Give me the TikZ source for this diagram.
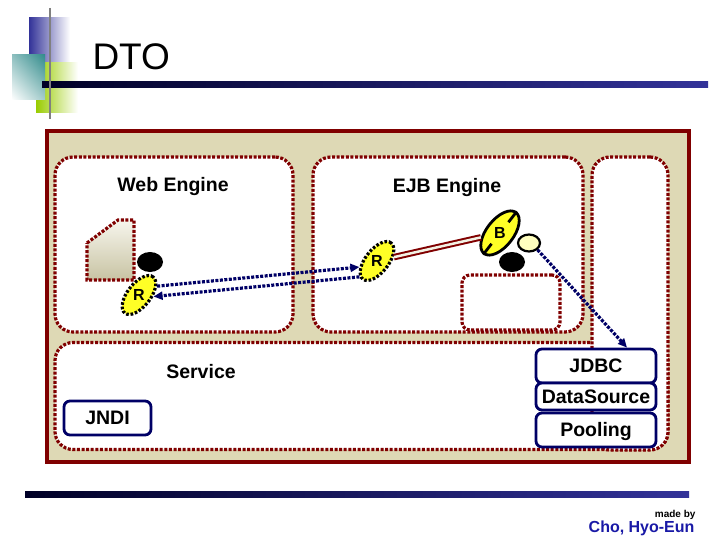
\documentclass[tikz,border=0pt]{standalone}
\usepackage{fontspec}
\setmainfont{Liberation Sans}
\usetikzlibrary{shapes.geometric,arrows.meta,calc,shadings}
\definecolor{dtomaroon}{rgb}{0.5,0,0}
\definecolor{dtonavy}{rgb}{0,0,0.4}
\definecolor{dtobeige}{rgb}{0.87,0.85,0.71}
\definecolor{dtoyellow}{rgb}{1,1,0.15}
\definecolor{dtopale}{rgb}{1,1,0.75}
\definecolor{dtoblue}{rgb}{0.2,0.2,0.6}
\definecolor{dtoteal}{rgb}{0.2,0.55,0.55}
\definecolor{dtogreen}{rgb}{0.6,0.8,0}
\definecolor{dtodark}{rgb}{0,0,0.15}
\definecolor{dtoink}{rgb}{0.1,0.1,0.65}

\begin{document}
\begin{tikzpicture}[x=1pt,y=-1pt,
        engine/.style={draw=dtomaroon,line width=3.2pt,dash pattern=on 3pt off 1.6pt,rounded corners=18pt,fill=white,inner sep=0pt},
        part/.style={draw=dtonavy,line width=2.8pt,rounded corners=6pt,fill=white,inner sep=0pt,text height=13.7pt,text depth=0pt,font=\fontsize{19.5}{22}\selectfont\bfseries},
        caption/.style={font=\fontsize{19.5}{22}\selectfont\bfseries,anchor=base},
        ref/.style={ellipse,draw=black,line width=3.2pt,dash pattern=on 2.6pt off 1.8pt,fill=dtoyellow,minimum width=46pt,minimum height=23pt,inner sep=0pt,rotate=52},
        blob/.style={ellipse,fill=black,minimum width=26pt,minimum height=20pt,inner sep=0pt},
        call/.style={draw=dtonavy,line width=3.2pt,dash pattern=on 3pt off 1.5pt,-{Triangle[length=9pt,width=8pt]}},
        letter/.style={font=\fontsize{16}{18}\selectfont\bfseries}
    ]
        \useasboundingbox (0,0) rectangle (720,540);
        \shade[left color=dtoblue,right color=white] (29,18) rectangle (70,80);
        \shade[left color=dtogreen,right color=white] (36,63) rectangle (78,113);
        \shade[upper right=dtoteal,upper left=dtoteal!55!white,lower right=dtoteal!45!white,lower left=white] (12,55) rectangle (45,100);
        \shade[left color=dtodark,right color=dtoblue] (42,82) rectangle (708,88);
        \draw[gray,line width=2.5pt] (50,8) -- (50,119);
        \node[anchor=base west,font=\fontsize{37}{40}\selectfont] (title) at (89,70) {DTO};

        \draw[dtomaroon,line width=4pt,fill=dtobeige] (47,131) rectangle (689,462);
        \node[engine,minimum width=238pt,minimum height=175pt] (web) at (174,244.5) {};
        \node[engine,minimum width=270pt,minimum height=175pt] (ejb) at (448,244.5) {};
        \node[engine,minimum width=613pt,minimum height=107pt] (service) at (361.5,396) {};
        \node[engine,minimum width=76pt,minimum height=293pt] (pool) at (630,303.5) {};
        \node[engine,rounded corners=8pt,minimum width=98pt,minimum height=55pt] (bean) at (511,302.5) {};
        \draw[dtomaroon,line width=3.2pt,dash pattern=on 3pt off 1.6pt,top color=dtobeige!25!white,bottom color=dtobeige!90!black]
            (87,243) -- (118,220) -- (134,220) -- (134,280) -- (87,280) -- cycle;

        \node[caption] (webname) at (173,192) {Web Engine};
        \node[caption] (ejbname) at (447,193) {EJB Engine};
        \node[caption] (servicename) at (201,378) {Service};

        \node[blob] (webobj) at (150,262) {};
        \node[blob] (ejbobj) at (512,262) {};
        \node[ref] (rw) at (139,295) {};
        \node[letter] (rwtext) at (rw) {R};
        \node[ref] (re) at (377,261) {};
        \node[letter] (retext) at (re) {R};
        \node[ref,solid,line width=2.8pt,minimum width=52pt,minimum height=27pt] (b) at (500,233) {};
        \draw[line width=2.8pt] (b.east) -- ($(b.east)!0.5!(b)$);
        \draw[line width=2.8pt] (b.west) -- ($(b.west)!0.5!(b)$);
        \node[letter] (btext) at (b) {B};
        \node[ellipse,draw=black,line width=2.2pt,fill=dtopale,minimum width=22pt,minimum height=17pt,inner sep=0pt] (lookup) at (529,243) {};

        \node[part,minimum width=87pt,minimum height=34pt] (jndi) at (107.5,418) {JNDI};
        \node[part,minimum width=120pt,minimum height=34pt] (jdbc) at (596,366) {JDBC};
        \node[part,minimum width=120pt,minimum height=27pt] (source) at (596,396.5) {DataSource};
        \node[part,minimum width=120pt,minimum height=34pt] (pooling) at (596,430) {Pooling};

        \draw[draw=dtomaroon,double=dtobeige!35!white,double distance=2.5pt,line width=2pt] (re) -- (b);
        \draw[call] (rw.334) -- (re.147);
        \draw[call] (re.170) -- (rw.302);
        \draw[call] (lookup.south east) -- ([xshift=31pt]jdbc.north);

        \shade[left color=dtodark,right color=dtoblue] (25,491) rectangle (689,497);
        \node[anchor=base east,font=\fontsize{10}{12}\selectfont\bfseries] (made) at (699,517) {made by};
        \node[anchor=base east,font=\fontsize{16}{18}\selectfont\bfseries,text=dtoink] (author) at (698,532) {Cho, Hyo-Eun};
    \end{tikzpicture}
\end{document}
